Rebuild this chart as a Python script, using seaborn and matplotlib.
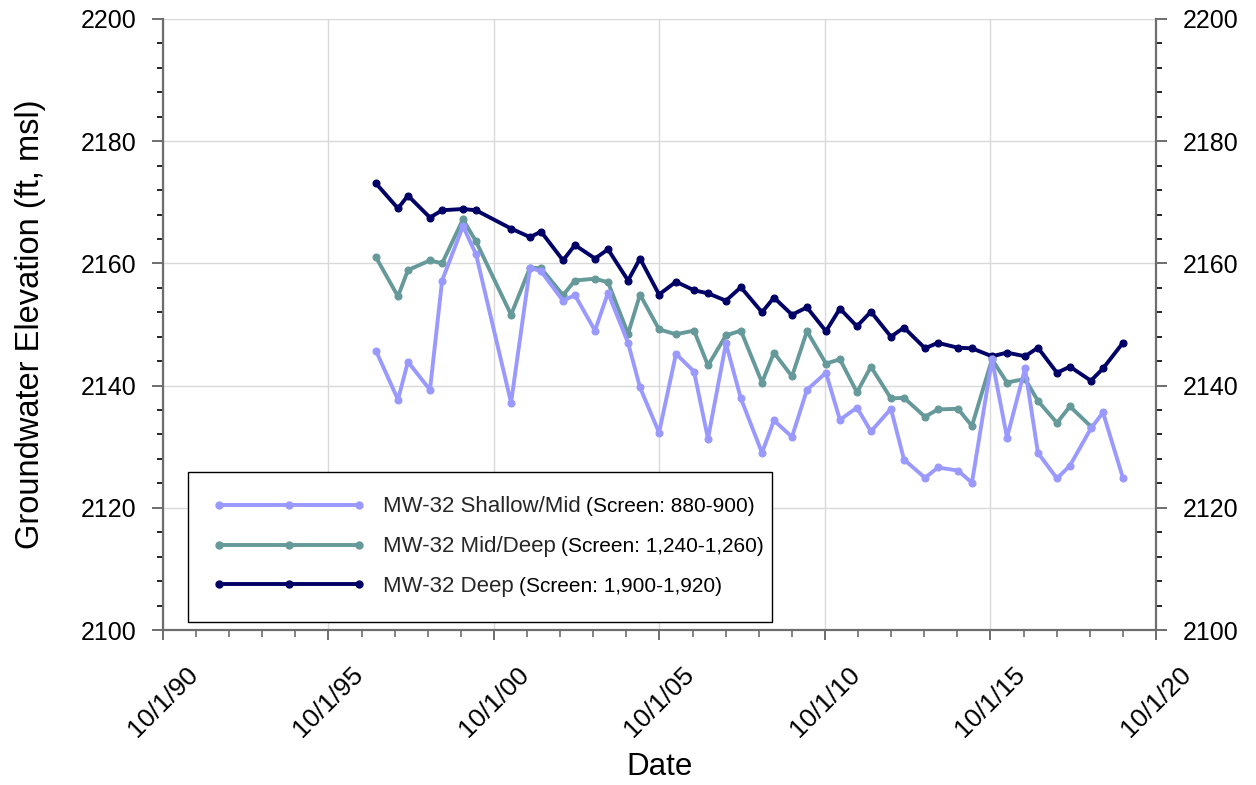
import matplotlib
matplotlib.use("Agg")
import matplotlib.pyplot as plt
import matplotlib.dates as mdates
from matplotlib import font_manager
from matplotlib.lines import Line2D
import seaborn as sns
import pandas as pd

# ---------------- data ----------------
dates = [
    "1997-03-08", "1997-11-06", "1998-02-24", "1998-10-25", "1999-03-08",
    "1999-10-24", "2000-03-16", "2001-04-07", "2001-11-02", "2002-03-04",
    "2002-11-01", "2003-03-13", "2003-10-20", "2004-03-12", "2004-10-19",
    "2005-02-28", "2005-09-26", "2006-04-01", "2006-10-17", "2007-03-20",
    "2007-10-04", "2008-03-17", "2008-11-05", "2009-03-17", "2009-10-02",
    "2010-03-16", "2010-10-12", "2011-03-15", "2011-09-19", "2012-02-20",
    "2012-09-28", "2013-02-19", "2013-10-09", "2014-02-28", "2014-10-07",
    "2015-03-11", "2015-10-18", "2016-04-01", "2016-10-17", "2017-03-08",
    "2017-10-04", "2018-02-24", "2018-10-14", "2019-02-24", "2019-10-02",
]

shallow_mid = [
    2145.7, 2137.7, 2143.9, 2139.3, 2157.2, 2166.1, 2161.5, 2137.2, 2159.3, 2158.7,
    2153.9, 2154.8, 2149.0, 2155.2, 2147.0, 2139.7, 2132.3, 2145.2, 2142.3, 2131.3,
    2146.9, 2137.9, 2129.0, 2134.3, 2131.6, 2139.3, 2142.1, 2134.4, 2136.4, 2132.5,
    2136.2, 2127.9, 2124.9, 2126.6, 2126.1, 2124.1, 2144.3, 2131.5, 2142.8, 2129.0,
    2124.8, 2126.9, 2133.0, 2135.6, 2124.9,
]

mid_deep = [
    2161.0, 2154.6, 2158.9, 2160.5, 2160.0, 2167.2, 2163.6, 2151.6, 2159.3, 2159.2,
    2154.8, 2157.2, 2157.5, 2156.9, 2148.5, 2154.9, 2149.2, 2148.4, 2149.0, 2143.3,
    2148.2, 2149.0, 2140.5, 2145.4, 2141.5, 2148.9, 2143.6, 2144.3, 2138.9, 2143.1,
    2137.9, 2138.0, 2134.9, 2136.1, 2136.2, 2133.4, 2144.3, 2140.5, 2141.1, 2137.5,
    2133.9, 2136.6, 2133.3,
]

deep = [
    2173.1, 2169.0, 2171.1, 2167.5, 2168.7, 2168.9, 2168.7, 2165.7, 2164.3, 2165.2,
    2160.5, 2163.0, 2160.8, 2162.3, 2157.2, 2160.8, 2154.9, 2157.0, 2155.6, 2155.1,
    2153.9, 2156.1, 2152.0, 2154.4, 2151.6, 2152.8, 2148.9, 2152.6, 2149.7, 2152.1,
    2148.0, 2149.5, 2146.1, 2147.0, 2146.2, 2146.1, 2144.8, 2145.4, 2144.8, 2146.2,
    2142.1, 2143.1, 2140.8, 2142.8, 2147.0,
]

series_names = ["MW-32 Shallow/Mid", "MW-32 Mid/Deep", "MW-32 Deep"]
screen_labels = ["(Screen: 880-900)", "(Screen: 1,240-1,260)", "(Screen: 1,900-1,920)"]
series_colors = ["#9999ff", "#669999", "#000066"]

y_ticks = [2100, 2120, 2140, 2160, 2180, 2200]
x_start, x_end = "1990-10-01", "2020-10-01"

# ---------------- build frame ----------------
frames = []
for name, vals in zip(series_names, [shallow_mid, mid_deep, deep]):
    frames.append(pd.DataFrame({
        "date": pd.to_datetime(dates[:len(vals)]),
        "elev": vals,
        "series": name,
    }))
df = pd.concat(frames, ignore_index=True)

# ---------------- style ----------------
sns.set_theme(style="white")
plt.rcParams["font.family"] = ["Liberation Sans", "DejaVu Sans"]

fig = plt.figure(figsize=(12.56, 7.85), dpi=100)
ax = fig.add_axes([163 / 1256, 1 - 630 / 785, (1156 - 163) / 1256, (630 - 19) / 785])

lw = 2.8
ms = 5.0
# draw order: deep first, shallow on top
for name, col in reversed(list(zip(series_names, series_colors))):
    sub = df[df["series"] == name]
    sns.lineplot(data=sub, x="date", y="elev", color=col, linewidth=lw,
                 marker="o", markersize=ms, markeredgecolor=col,
                 markeredgewidth=0.8, ax=ax, legend=False, sort=False)

ax.set_xlim(pd.Timestamp(x_start), pd.Timestamp(x_end))
ax.set_ylim(y_ticks[0], y_ticks[-1])
ax.set_yticks(y_ticks)
ax.yaxis.set_minor_locator(matplotlib.ticker.MultipleLocator(4))

ax.xaxis.set_major_locator(mdates.YearLocator(base=5, month=10, day=1))
ax.xaxis.set_minor_locator(mdates.YearLocator(base=1, month=10, day=1))
ax.xaxis.set_major_formatter(matplotlib.ticker.FuncFormatter(
    lambda v, p: (lambda d: f"{d.month}/{d.day}/{d.year % 100:02d}")(mdates.num2date(v))))

ax.grid(True, which="major", color="#d9d9d9", linewidth=1.0)
ax.set_axisbelow(True)

spine_col = "#6e6e6e"
for side in ["left", "right", "bottom"]:
    ax.spines[side].set_visible(True)
    ax.spines[side].set_color(spine_col)
    ax.spines[side].set_linewidth(1.6)
ax.spines["top"].set_visible(False)

ax.tick_params(axis="y", which="major", left=True, right=True, labelleft=True,
               labelright=True, direction="out", length=8, width=1.4,
               color=spine_col, labelsize=18, pad=11, labelcolor="black")
ax.tick_params(axis="y", which="minor", left=True, right=True, direction="out",
               length=4, width=1.2, color="black")
ax.tick_params(axis="x", which="major", bottom=True, direction="out", length=7,
               width=1.4, color=spine_col, labelsize=19, pad=16, labelcolor="black")
ax.tick_params(axis="x", which="minor", bottom=True, direction="out", length=5,
               width=1.2, color=spine_col)
for lab in ax.get_xticklabels():
    lab.set_rotation(45)
    lab.set_ha("center")

ax.set_xlabel("Date", fontsize=22.5, color="black")
ax.set_ylabel("Groundwater Elevation (ft, msl)", fontsize=23.5, color="black")
ax.xaxis.set_label_coords(0.5, -0.20)
ax.yaxis.set_label_coords(-0.118, 0.5)

# ---------------- legend ----------------
handles = [Line2D([], [], color=c, lw=lw, marker="o", markersize=ms,
                  markeredgecolor=c) for c in series_colors]
leg = ax.legend(handles, series_names, loc="upper left",
                bbox_to_anchor=(0.025, 0.0196, 0.588, 0.239), mode="expand",
                fontsize=16, numpoints=3, handlelength=6.9, handletextpad=0.8,
                labelspacing=0.85, borderpad=1.1, borderaxespad=0.0,
                frameon=True, fancybox=False, framealpha=1.0)
leg.get_frame().set_edgecolor("black")
leg.get_frame().set_linewidth(1.0)

names = {f.name for f in font_manager.fontManager.ttflist}
if "Liberation Sans Narrow" in names:
    screen_font = dict(family="Liberation Sans Narrow", size=16)
else:
    screen_font = dict(family="Liberation Sans", size=15)

fig.canvas.draw()
renderer = fig.canvas.get_renderer()
for t, s in zip(leg.get_texts(), screen_labels):
    bb = t.get_window_extent(renderer)
    xb, yb = t.get_transform().transform(t.get_position())
    fig.text((bb.x1 + 5) / fig.bbox.width, yb / fig.bbox.height, s,
             ha="left", va="baseline", color="black", **screen_font)

fig.savefig("out.png", dpi=100)
